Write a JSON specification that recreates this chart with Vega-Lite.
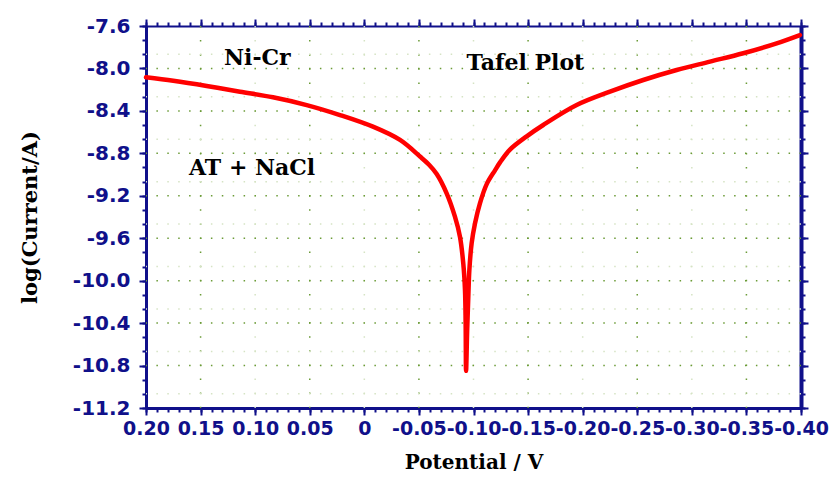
{
  "$schema": "https://vega.github.io/schema/vega-lite/v6.json",
  "width": 655,
  "height": 382,
  "autosize": {"type": "none"},
  "padding": {"left": 146, "top": 26, "right": 30, "bottom": 74},
  "background": "white",
  "config": {"view": {"stroke": null}},
  "datasets": {
    "curve": [
      {"i": 1, "v": 0.2, "logi": -8.083},
      {"i": 2, "v": 0.175, "logi": -8.116},
      {"i": 3, "v": 0.1444, "logi": -8.165},
      {"i": 4, "v": 0.1139, "logi": -8.219},
      {"i": 5, "v": 0.0837, "logi": -8.272},
      {"i": 6, "v": 0.0528, "logi": -8.345},
      {"i": 7, "v": 0.0223, "logi": -8.439},
      {"i": 8, "v": -0.0079, "logi": -8.549},
      {"i": 9, "v": -0.0327, "logi": -8.674},
      {"i": 10, "v": -0.051, "logi": -8.83},
      {"i": 11, "v": -0.0595, "logi": -8.91},
      {"i": 12, "v": -0.0663, "logi": -8.995},
      {"i": 13, "v": -0.0754, "logi": -9.177},
      {"i": 14, "v": -0.083, "logi": -9.397},
      {"i": 15, "v": -0.0876, "logi": -9.586},
      {"i": 16, "v": -0.0906, "logi": -9.834},
      {"i": 17, "v": -0.0922, "logi": -10.088},
      {"i": 18, "v": -0.0928, "logi": -10.399},
      {"i": 19, "v": -0.0932, "logi": -10.85},
      {"i": 20, "v": -0.0942, "logi": -10.465},
      {"i": 21, "v": -0.0953, "logi": -10.135},
      {"i": 22, "v": -0.0962, "logi": -9.9},
      {"i": 23, "v": -0.0983, "logi": -9.648},
      {"i": 24, "v": -0.1014, "logi": -9.459},
      {"i": 25, "v": -0.1059, "logi": -9.271},
      {"i": 26, "v": -0.1121, "logi": -9.09},
      {"i": 27, "v": -0.1197, "logi": -8.96},
      {"i": 28, "v": -0.1243, "logi": -8.885},
      {"i": 29, "v": -0.1334, "logi": -8.765},
      {"i": 30, "v": -0.1487, "logi": -8.64},
      {"i": 31, "v": -0.1639, "logi": -8.533},
      {"i": 32, "v": -0.1945, "logi": -8.345},
      {"i": 33, "v": -0.225, "logi": -8.219},
      {"i": 34, "v": -0.2555, "logi": -8.109},
      {"i": 35, "v": -0.2861, "logi": -8.015},
      {"i": 36, "v": -0.3166, "logi": -7.936},
      {"i": 37, "v": -0.3471, "logi": -7.857},
      {"i": 38, "v": -0.3777, "logi": -7.763},
      {"i": 39, "v": -0.399, "logi": -7.685}
    ],
    "gxMajor": [{"v": 0.15}, {"v": 0.05}, {"v": -0.05}, {"v": -0.15}, {"v": -0.25}, {"v": -0.35}],
    "gxFaint": [{"v": 0.1}, {"v": 0}, {"v": -0.1}, {"v": -0.2}, {"v": -0.3}],
    "gyMajor": [{"y": -8.0}, {"y": -8.4}, {"y": -8.8}, {"y": -9.2}, {"y": -9.6}, {"y": -10.0}, {"y": -10.4}, {"y": -10.8}],
    "gyFaint": [{"y": -7.8667}, {"y": -8.2667}, {"y": -8.6667}, {"y": -9.0667}, {"y": -9.4667}, {"y": -9.8667}, {"y": -10.2667}, {"y": -10.6667}, {"y": -11.0667}],
    "notes": [
      {"v": 0.098, "y": -7.9, "t": "Ni-Cr"},
      {"v": -0.1475, "y": -7.949, "t": "Tafel Plot"},
      {"v": 0.1028, "y": -8.938, "t": "AT + NaCl"}
    ]
  },
  "resolve": {"axis": {"x": "independent", "y": "independent"}},
  "layer": [
    {
      "data": {"name": "gxMajor"},
      "mark": {"type": "rule", "color": "#6b9b37", "strokeWidth": 1.5, "strokeDash": [1.5, 12.6]},
      "encoding": {
        "x": {"field": "v", "type": "quantitative",
          "scale": {"domain": [-0.4, 0.2], "reverse": true, "nice": false, "zero": false},
          "axis": {"orient": "bottom", "values": [0.2,0.19,0.18,0.17,0.16,0.15,0.14,0.13,0.12,0.11,0.1,0.09,0.08,0.07,0.06,0.05,0.04,0.03,0.02,0.01,0,-0.01,-0.02,-0.03,-0.04,-0.05,-0.06,-0.07,-0.08,-0.09,-0.1,-0.11,-0.12,-0.13,-0.14,-0.15,-0.16,-0.17,-0.18,-0.19,-0.2,-0.21,-0.22,-0.23,-0.24,-0.25,-0.26,-0.27,-0.28,-0.29,-0.3,-0.31,-0.32,-0.33,-0.34,-0.35,-0.36,-0.37,-0.38,-0.39,-0.4],
            "labels": false, "domain": false, "grid": false, "title": null,
            "tickSize": 4, "tickWidth": 2, "tickColor": "#10108a"}}
      }
    },
    {
      "data": {"name": "gxFaint"},
      "mark": {"type": "rule", "color": "#d5e3c4", "strokeWidth": 1.5, "strokeDash": [1.5, 12.6]},
      "encoding": {
        "x": {"field": "v", "type": "quantitative",
          "scale": {"domain": [-0.4, 0.2], "reverse": true, "nice": false, "zero": false},
          "axis": {"orient": "top", "values": [0.2,0.19,0.18,0.17,0.16,0.15,0.14,0.13,0.12,0.11,0.1,0.09,0.08,0.07,0.06,0.05,0.04,0.03,0.02,0.01,0,-0.01,-0.02,-0.03,-0.04,-0.05,-0.06,-0.07,-0.08,-0.09,-0.1,-0.11,-0.12,-0.13,-0.14,-0.15,-0.16,-0.17,-0.18,-0.19,-0.2,-0.21,-0.22,-0.23,-0.24,-0.25,-0.26,-0.27,-0.28,-0.29,-0.3,-0.31,-0.32,-0.33,-0.34,-0.35,-0.36,-0.37,-0.38,-0.39,-0.4],
            "labels": false, "domain": false, "grid": false, "title": null,
            "tickSize": 4, "tickWidth": 2, "tickColor": "#10108a"}}
      }
    },
    {
      "data": {"name": "gyMajor"},
      "mark": {"type": "rule", "color": "#6b9b37", "strokeWidth": 1.5, "strokeDash": [1.5, 9.4]},
      "encoding": {
        "y": {"field": "y", "type": "quantitative",
          "scale": {"domain": [-11.2, -7.6], "nice": false, "zero": false},
          "axis": {"orient": "left", "values": [-11.2,-11.0667,-10.9333,-10.8,-10.6667,-10.5333,-10.4,-10.2667,-10.1333,-10.0,-9.8667,-9.7333,-9.6,-9.4667,-9.3333,-9.2,-9.0667,-8.9333,-8.8,-8.6667,-8.5333,-8.4,-8.2667,-8.1333,-8.0,-7.8667,-7.7333,-7.6],
            "labels": false, "domain": false, "grid": false, "title": null,
            "tickSize": 4, "tickWidth": 2, "tickColor": "#10108a"}}
      }
    },
    {
      "data": {"name": "gyFaint"},
      "mark": {"type": "rule", "color": "#d5e3c4", "strokeWidth": 1.5, "strokeDash": [1.5, 9.4]},
      "encoding": {
        "y": {"field": "y", "type": "quantitative",
          "scale": {"domain": [-11.2, -7.6], "nice": false, "zero": false},
          "axis": {"orient": "right", "values": [-11.2,-11.0667,-10.9333,-10.8,-10.6667,-10.5333,-10.4,-10.2667,-10.1333,-10.0,-9.8667,-9.7333,-9.6,-9.4667,-9.3333,-9.2,-9.0667,-8.9333,-8.8,-8.6667,-8.5333,-8.4,-8.2667,-8.1333,-8.0,-7.8667,-7.7333,-7.6],
            "labels": false, "domain": false, "grid": false, "title": null,
            "tickSize": 4, "tickWidth": 2, "tickColor": "#10108a"}}
      }
    },
    {
      "data": {"name": "curve"},
      "mark": {"type": "line", "color": "#ff0000", "strokeWidth": 4.5, "strokeCap": "round", "strokeJoin": "round", "interpolate": "catmull-rom"},
      "encoding": {
        "x": {"field": "v", "type": "quantitative",
          "scale": {"domain": [-0.4, 0.2], "reverse": true, "nice": false, "zero": false},
          "axis": {"orient": "bottom", "values": [0.2,0.15,0.1,0.05,0,-0.05,-0.1,-0.15,-0.2,-0.25,-0.3,-0.35,-0.4],
            "labelExpr": "datum.value == 0 ? '0' : replace(format(datum.value, '.2f'), '\u2212', '-')",
            "labelFont": "DejaVu Sans", "labelFontWeight": "bold", "labelFontSize": 19, "labelColor": "#10108a",
            "labelFlush": false, "labelOverlap": false, "labelPadding": 4,
            "domain": true, "domainColor": "#10108a", "domainWidth": 3,
            "grid": false, "tickSize": 7, "tickWidth": 2, "tickColor": "#10108a",
            "title": "Potential / V", "titleFont": "DejaVu Serif", "titleFontWeight": "bold", "titleFontSize": 20, "titleColor": "#000000", "titlePadding": 14}},
        "y": {"field": "logi", "type": "quantitative",
          "scale": {"domain": [-11.2, -7.6], "nice": false, "zero": false},
          "axis": {"orient": "left", "values": [-11.2,-10.8,-10.4,-10.0,-9.6,-9.2,-8.8,-8.4,-8.0,-7.6],
            "labelExpr": "replace(format(datum.value, '.1f'), '\u2212', '-')",
            "labelFont": "DejaVu Sans", "labelFontWeight": "bold", "labelFontSize": 20, "labelColor": "#10108a",
            "labelFlush": false, "labelOverlap": false, "labelPadding": 9,
            "domain": true, "domainColor": "#10108a", "domainWidth": 3,
            "grid": false, "tickSize": 7, "tickWidth": 2, "tickColor": "#10108a",
            "title": "log(Current/A)", "titleFont": "DejaVu Serif", "titleFontWeight": "bold", "titleFontSize": 21, "titleColor": "#000000", "titlePadding": 32}},
        "order": {"field": "i", "type": "quantitative"}
      }
    },
    {
      "data": {"name": "notes"},
      "mark": {"type": "text", "font": "DejaVu Serif", "fontWeight": "bold", "fontSize": 22, "color": "#000000", "align": "center", "baseline": "middle"},
      "encoding": {
        "x": {"field": "v", "type": "quantitative",
          "scale": {"domain": [-0.4, 0.2], "reverse": true, "nice": false, "zero": false},
          "axis": {"orient": "top", "values": [0.2,0.15,0.1,0.05,0,-0.05,-0.1,-0.15,-0.2,-0.25,-0.3,-0.35,-0.4],
            "labels": false, "domain": true, "domainColor": "#10108a", "domainWidth": 2,
            "grid": false, "tickSize": 7, "tickWidth": 2, "tickColor": "#10108a", "title": null}},
        "y": {"field": "y", "type": "quantitative",
          "scale": {"domain": [-11.2, -7.6], "nice": false, "zero": false},
          "axis": {"orient": "right", "values": [-11.2,-10.8,-10.4,-10.0,-9.6,-9.2,-8.8,-8.4,-8.0,-7.6],
            "labels": false, "domain": true, "domainColor": "#10108a", "domainWidth": 4,
            "grid": false, "tickSize": 7, "tickWidth": 2, "tickColor": "#10108a", "title": null}},
        "text": {"field": "t"}
      }
    }
  ]
}
